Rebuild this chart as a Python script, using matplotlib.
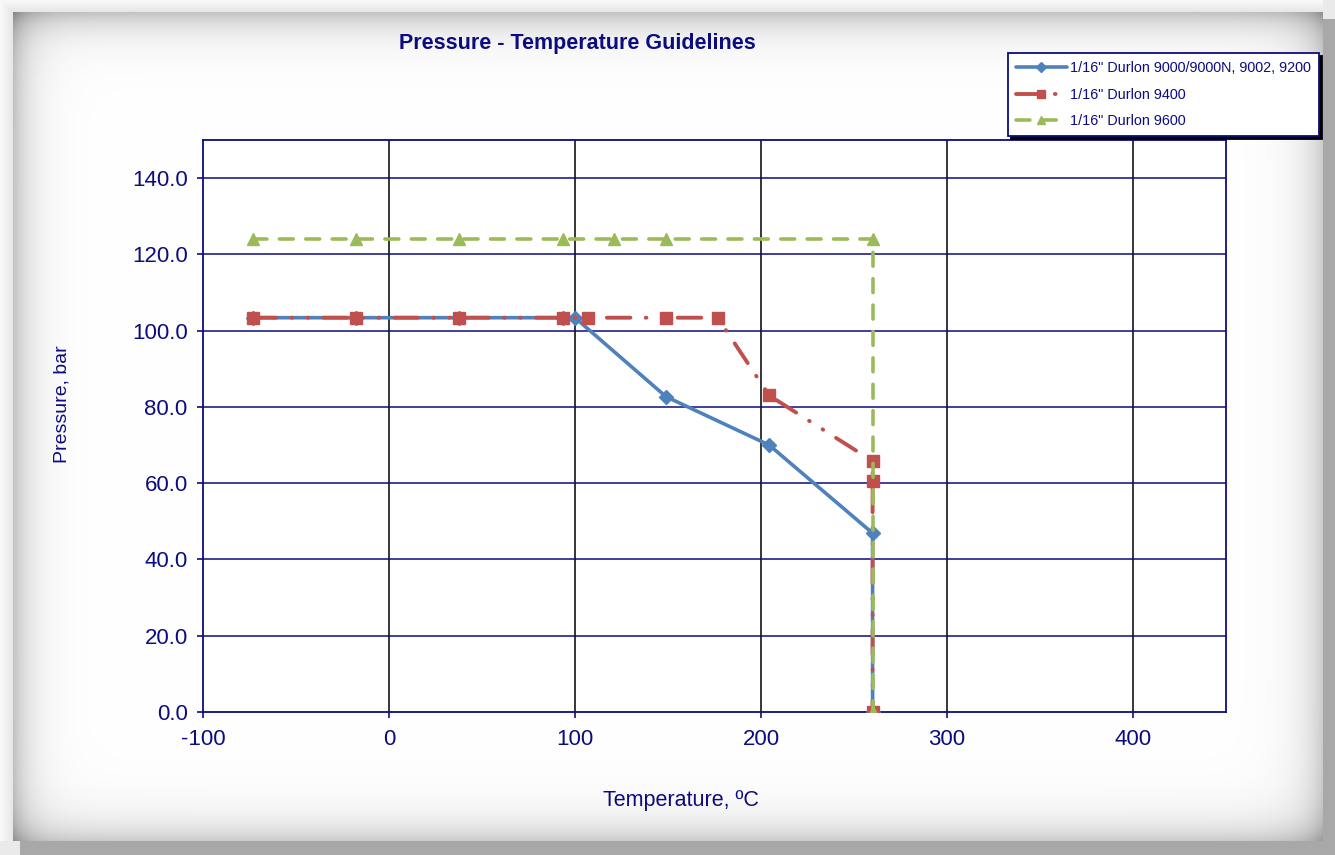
import numpy as np
import matplotlib
matplotlib.use("Agg")
import matplotlib.pyplot as plt

plt.rcParams['font.family'] = ['Liberation Sans', 'DejaVu Sans']
plt.rcParams['lines.scale_dashes'] = False
plt.rcParams['axes.unicode_minus'] = False

# Temperatures in degC, pressures in bar
temp_9000 = [-73.3, -17.8, 37.8, 93.3, 100.0, 148.9, 204.4, 260.0, 260.0]
pres_9000 = [103.4, 103.4, 103.4, 103.4, 103.4, 82.7, 70.0, 46.9, 0.0]

temp_9400 = [-73.3, -17.8, 37.8, 93.3, 107.2, 148.9, 176.7, 204.4, 260.0, 260.0, 260.0]
pres_9400 = [103.4, 103.4, 103.4, 103.4, 103.4, 103.4, 103.4, 83.0, 65.8, 60.6, 0.0]

temp_9600 = [-73.3, -17.8, 37.8, 93.3, 121.1, 148.9, 260.0, 260.0]
pres_9600 = [124.0, 124.0, 124.0, 124.0, 124.0, 124.0, 124.0, 0.0]

series_labels = ['1/16" Durlon 9000/9000N, 9002, 9200',
                 '1/16" Durlon 9400',
                 '1/16" Durlon 9600']
x_ticks = [-100, 0, 100, 200, 300, 400]
y_ticks = [0, 20, 40, 60, 80, 100, 120, 140]

NAVY = '#0c0c80'
BLUE = '#4f81bd'
RED = '#c0504d'
GREEN = '#9bbb59'

W, H = 1335, 855
fig = plt.figure(figsize=(W / 100, H / 100), dpi=100)
fig.patch.set_facecolor('white')

# Framed panel background with soft inner shading
yy, xx = np.mgrid[0:H, 0:W].astype(float)
x0, x1, y0, y1 = 13, 1322, 13, 840
inside = (xx >= x0) & (xx <= x1) & (yy >= y0) & (yy <= y1)
shade = (0.24 * np.exp(-np.clip(xx - x0, 0, None) / 18.0)
         + 0.24 * np.exp(-np.clip(yy - y0, 0, None) / 18.0)
         + 0.20 * np.exp(-np.clip(x1 - xx, 0, None) / 20.0)
         + 0.20 * np.exp(-np.clip(y1 - yy, 0, None) / 20.0))
panel = 1.0 - shade
outer = np.full((H, W), 0.90)
outer = np.where((xx > x1) | (yy > y1), 0.66, outer)
glow = 0.90 + 0.08 * np.clip(1 - np.minimum(xx, yy) / 13.0, 0, 1)
outer = np.where((xx < x0) | (yy < y0), glow, outer)
outer = np.where(((xx > x1) & (yy < 20)) | ((yy > y1) & (xx < 20)), 0.92, outer)
img = np.where(inside, panel, outer)
bg = fig.add_axes([0, 0, 1, 1], zorder=-10)
bg.imshow(np.dstack([img] * 3), extent=(0, W, H, 0), aspect='auto', interpolation='bilinear')
bg.set_xlim(0, W)
bg.set_ylim(H, 0)
bg.axis('off')

ax = fig.add_axes([203 / W, 1 - 712 / H, (1226 - 203) / W, (712 - 140) / H])
ax.set_facecolor('white')
ax.set_xlim(-100, 450)
ax.set_ylim(0, 150)
ax.set_xticks(x_ticks)
ax.set_yticks(y_ticks)
ax.set_yticklabels([f'{v:.1f}' for v in y_ticks])
ax.tick_params(axis='both', colors=NAVY, labelcolor=NAVY, labelsize=16,
               length=4, width=1.2, direction='out')
ax.tick_params(axis='y', pad=7)
ax.tick_params(axis='x', pad=8)
for s in ax.spines.values():
    s.set_color(NAVY)
    s.set_linewidth(1.3)

for v in x_ticks[1:]:
    ax.axvline(v, color='black', lw=1.1, zorder=1)
for v in y_ticks[1:]:
    ax.axhline(v, color=NAVY, lw=1.1, zorder=1)

ax.plot(temp_9000, pres_9000, color=BLUE, lw=2.6, marker='D', ms=7,
        markeredgecolor=BLUE, solid_capstyle='round', zorder=3,
        label=series_labels[0])
ax.plot(temp_9400, pres_9400, color=RED, lw=2.8,
        linestyle=(0, (17, 11, 0.5, 11, 0.5, 11)), dash_capstyle='round',
        marker='s', ms=8.5, markeredgecolor=RED, zorder=4,
        label=series_labels[1])
ax.plot(temp_9600, pres_9600, color=GREEN, lw=2.6,
        linestyle=(0, (10, 9)), dash_capstyle='round',
        marker='^', ms=8.5, markeredgecolor=GREEN, zorder=5,
        label=series_labels[2])

fig.text(577 / W, 1 - 44 / H, 'Pressure - Temperature Guidelines',
         ha='center', va='center', fontsize=15.5, fontweight='bold', color=NAVY)
fig.text(681 / W, 1 - 800 / H, 'Temperature, ºC', ha='center', va='center',
         fontsize=15.5, color=NAVY)
fig.text(62 / W, 1 - 404 / H, 'Pressure, bar', ha='center', va='center',
         rotation=90, fontsize=14, color=NAVY)

leg = ax.legend(loc='upper left', bbox_to_anchor=(1008 / W, 1 - 53 / H),
                bbox_transform=fig.transFigure, borderaxespad=0,
                fontsize=10.4, frameon=True, fancybox=False,
                shadow={'color': 'black', 'alpha': 1.0},
                handlelength=3.5, handletextpad=0.25, labelspacing=0.88,
                borderpad=0.55, markerscale=0.75)
leg.get_frame().set_edgecolor(NAVY)
leg.get_frame().set_linewidth(1.3)
leg.get_frame().set_facecolor('white')
for t in leg.get_texts():
    t.set_color(NAVY)
leg.set_zorder(10)

fig.savefig('out.png', dpi=100)
